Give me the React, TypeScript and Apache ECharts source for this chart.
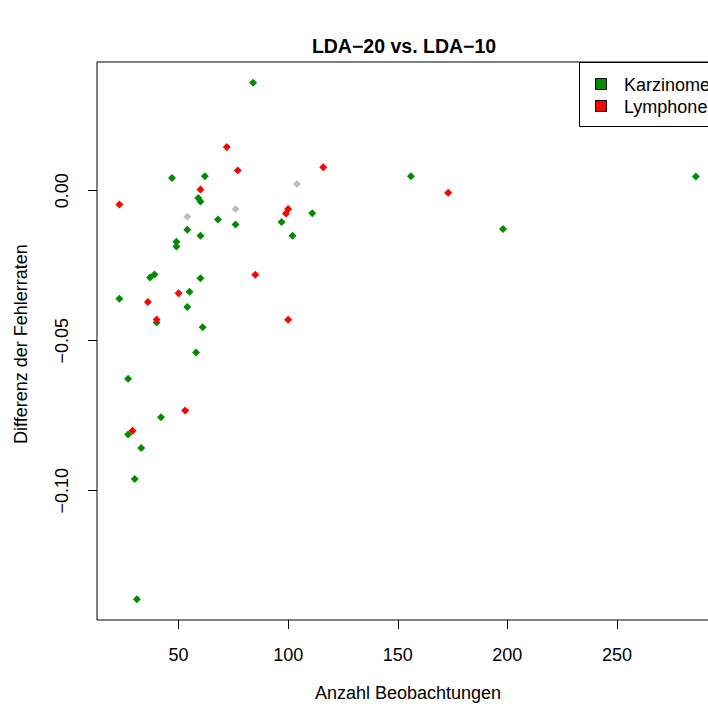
import React, { useEffect, useRef } from "react";
import * as echarts from "echarts";

const karzinome: [number, number][] = [
  [84, 0.036], [47, 0.0042], [62, 0.0048], [59, -0.0024], [60, -0.0036],
  [68, -0.0096], [76, -0.0113], [54, -0.013], [60, -0.015], [49, -0.017],
  [49, -0.0186], [37, -0.0289], [39, -0.0279], [60, -0.0292], [55, -0.0337],
  [23, -0.036], [54, -0.0388], [40, -0.0439], [61, -0.0455], [58, -0.0539],
  [27, -0.0627], [42, -0.0755], [27, -0.0813], [33, -0.0858], [30, -0.0961],
  [31, -0.1362], [111, -0.0075], [97, -0.0104], [102, -0.015], [156, 0.0048],
  [198, -0.0128], [286, 0.0047],
];

const lymphome: [number, number][] = [
  [72, 0.0146], [77, 0.0067], [60, 0.0004], [23, -0.0046], [85, -0.028],
  [50, -0.0342], [36, -0.0371], [40, -0.0429], [53, -0.0733], [29, -0.08],
  [116, 0.0078], [100, -0.0061], [99, -0.0076], [100, -0.043], [173, -0.0007],
];

const sonstige: [number, number][] = [
  [76, -0.0061], [54, -0.0087], [104, 0.0022],
];

const xTicks = [50, 100, 150, 200, 250];
const yTicks = [-0.1, -0.05, 0];
const legendNames = ["Karzinome", "Lymphone"];

const GREEN = "#008B00";
const RED = "#FF0000";
const GRAY = "#BEBEBE";
const FONT = "'Liberation Sans', Arial, Helvetica, sans-serif";

export default function App() {
  const ref = useRef<HTMLDivElement>(null);
  useEffect(() => {
    if (!ref.current) return;
    const chart = echarts.init(ref.current, null, { renderer: "svg" });
    const fmtY = (v: number) =>
      (v < -1e-9 ? "\u2212" : "") + Math.abs(v).toFixed(2);
    const sym = { symbol: "diamond", symbolSize: 8 };
    chart.setOption({
      animation: false,
      backgroundColor: "#fff",
      textStyle: { fontFamily: FONT },
      grid: {
        left: 97,
        top: 62,
        width: 623,
        height: 558,
        show: true,
        borderColor: "#000",
        borderWidth: 1,
        backgroundColor: "transparent",
        containLabel: false,
      },
      xAxis: {
        type: "value",
        min: 12.8,
        max: 297,
        axisLine: { show: false, onZero: false },
        splitLine: { show: false },
        axisTick: {
          show: true,
          length: 9,
          customValues: xTicks,
          lineStyle: { color: "#000", width: 1 },
        },
        axisLabel: {
          customValues: xTicks,
          margin: 26,
          fontSize: 18,
          lineHeight: 18,
          color: "#000",
          fontFamily: FONT,
          formatter: (v: number) => String(v),
        },
      },
      yAxis: {
        type: "value",
        min: -0.1431,
        max: 0.0429,
        axisLine: { show: false, onZero: false },
        splitLine: { show: false },
        axisTick: {
          show: true,
          length: 9,
          customValues: yTicks,
          lineStyle: { color: "#000", width: 1 },
        },
        axisLabel: {
          customValues: yTicks,
          rotate: 90,
          margin: 26,
          fontSize: 18,
          lineHeight: 18,
          color: "#000",
          fontFamily: FONT,
          formatter: fmtY,
        },
      },
      series: [
        {
          type: "scatter",
          name: "Sonstige",
          data: sonstige,
          ...sym,
          itemStyle: { color: GRAY, opacity: 1 },
        },
        {
          type: "scatter",
          name: legendNames[0],
          data: karzinome,
          ...sym,
          itemStyle: { color: GREEN, opacity: 1 },
        },
        {
          type: "scatter",
          name: legendNames[1],
          data: lymphome,
          ...sym,
          itemStyle: { color: RED, opacity: 1 },
        },
      ],
      graphic: [
        {
          type: "text",
          x: 404,
          y: 46,
          style: {
            text: "LDA\u221220 vs. LDA\u221210",
            font: `bold 19.5px ${FONT}`,
            fill: "#000",
            textAlign: "center",
            textVerticalAlign: "middle",
          },
        },
        {
          type: "text",
          x: 408,
          y: 693,
          style: {
            text: "Anzahl Beobachtungen",
            font: `18px ${FONT}`,
            fill: "#000",
            textAlign: "center",
            textVerticalAlign: "middle",
          },
        },
        {
          type: "text",
          x: 21,
          y: 344,
          rotation: Math.PI / 2,
          style: {
            text: "Differenz der Fehlerraten",
            font: `18px ${FONT}`,
            fill: "#000",
            textAlign: "center",
            textVerticalAlign: "middle",
          },
        },
        {
          type: "rect",
          shape: { x: 579.5, y: 62.5, width: 200, height: 64 },
          style: { fill: "#fff", stroke: "#000", lineWidth: 1 },
          z: 100,
        },
        {
          type: "rect",
          shape: { x: 595.5, y: 78.5, width: 11, height: 11 },
          style: { fill: GREEN, stroke: "#000", lineWidth: 1 },
          z: 101,
        },
        {
          type: "rect",
          shape: { x: 595.5, y: 100.5, width: 11, height: 11 },
          style: { fill: RED, stroke: "#000", lineWidth: 1 },
          z: 101,
        },
        {
          type: "text",
          x: 624,
          y: 84.5,
          z: 101,
          style: {
            text: legendNames[0],
            font: `18px ${FONT}`,
            fill: "#000",
            textVerticalAlign: "middle",
          },
        },
        {
          type: "text",
          x: 624,
          y: 106.5,
          z: 101,
          style: {
            text: legendNames[1],
            font: `18px ${FONT}`,
            fill: "#000",
            textVerticalAlign: "middle",
          },
        },
      ],
    });
    return () => chart.dispose();
  }, []);
  return (
    <div
      style={{
        position: "fixed",
        left: 0,
        top: 0,
        width: 708,
        height: 710,
        overflow: "hidden",
      }}
    >
      <div ref={ref} style={{ width: 740, height: 710 }} />
    </div>
  );
}
